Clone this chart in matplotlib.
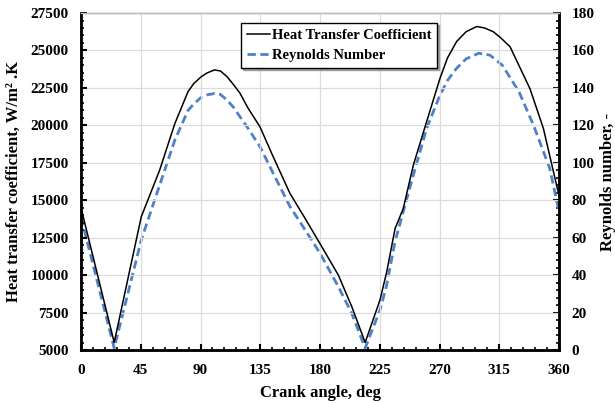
import numpy as np
import matplotlib
matplotlib.use("Agg")
import matplotlib.pyplot as plt
from matplotlib.ticker import MultipleLocator

# -------------------
# Data
# -------------------
htc_deg = [0, 25, 45.4, 59.2, 70.6, 80.6, 85, 90.6, 95, 100.5, 105, 110, 115, 119.7, 125.8, 134.8,
           145, 157.4, 168, 180, 193.8, 203.9, 214, 225.2, 230.2, 236.5, 242.7,
           250.3, 260.3, 270.4, 276, 282.9, 290, 298, 304, 310.5, 316, 323.1, 338.1, 348.2, 360]
htc = [14500, 5500, 13900, 17000, 20100, 22250, 22800, 23250, 23500, 23700, 23630, 23250, 22700, 22150, 21150, 19900,
       17850, 15450, 13900, 12100, 10000, 7900, 5500, 8350, 10200, 13100, 14450,
       17350, 20250, 23150, 24500, 25600, 26250, 26600, 26500, 26250, 25850, 25250, 22450, 19800, 15300]

re_deg = [0, 25, 45.4, 59.2, 70.6, 80.6, 85, 90.6, 95, 100.5, 105, 110, 115, 119.7, 125.8, 134.8,
          145, 157.4, 168, 180, 193.8, 203.9, 214, 225.2, 230.2, 236.5, 242.7,
          250.3, 260.3, 270.4, 276, 282.9, 290, 299.5, 308, 317.2, 329.8, 340.8, 353, 360]
re = [71, 1, 58.8, 88, 112, 128, 131.5, 135, 136.3, 137, 136.5, 133.5, 129.5, 124.6, 118.4, 108.6,
      94, 76.6, 65, 51.7, 33.8, 19.6, 1, 21.4, 34.7, 57.9, 73.9,
      93.5, 118.4, 136.2, 144, 150.5, 155.5, 158.5, 157.5, 152.2, 138, 120, 97, 74]

plt.rcParams['font.family'] = ['Liberation Serif', 'DejaVu Serif']
plt.rcParams['font.weight'] = 'bold'

fig = plt.figure(figsize=(6.15, 4.03), dpi=100)
ax = fig.add_axes([0.1317, 0.1315, 0.909 - 0.1317, 0.9677 - 0.1315])
ax2 = ax.twinx()

l1, = ax.plot(htc_deg, htc, color='black', lw=1.1, label='Heat Transfer Coefficient')
l2, = ax2.plot(re_deg, re, color='#4f81c7', lw=2.0, ls=(0, (3, 1.6)), label='Reynolds Number')

ax.set_xlim(0, 360)
ax.set_ylim(5000, 27500)
ax2.set_ylim(0, 180)

ax.xaxis.set_major_locator(MultipleLocator(45))
ax.xaxis.set_minor_locator(MultipleLocator(9))
ax.yaxis.set_major_locator(MultipleLocator(2500))
ax.yaxis.set_minor_locator(MultipleLocator(500))
ax2.yaxis.set_major_locator(MultipleLocator(20))
ax2.yaxis.set_minor_locator(MultipleLocator(4))

ax.grid(True, which='major', color='#dcdcdc', lw=0.9)
ax.set_axisbelow(True)

for a in (ax, ax2):
    a.tick_params(which='both', direction='in', labelsize=11)
    a.tick_params(which='major', length=4, width=1.5, pad=9)
    a.tick_params(which='minor', length=2.5, width=1.2)
    for s in ('left', 'bottom', 'right'):
        a.spines[s].set_linewidth(1.8)
    a.spines['top'].set_color('#bdbdbd')
    a.spines['top'].set_linewidth(1.0)
ax.tick_params(axis='x', which='major', pad=10)

ax.set_xlabel('Crank angle, deg', fontsize=12, fontweight='bold', labelpad=6)
ax.set_ylabel('Heat transfer coefficient, W/m² .K', fontsize=12, fontweight='bold', labelpad=6)
ax2.set_ylabel('Reynolds number, -', fontsize=12, fontweight='bold', labelpad=4)

leg = ax.legend(handles=[l1, l2], loc='upper left', bbox_to_anchor=(0.32, 0.993),
                frameon=True, fancybox=False,
                shadow={'ox': 1.5, 'oy': -1.5, 'color': '0.55', 'alpha': 0.8},
                handlelength=1.6, handletextpad=0.1, borderpad=0.4, labelspacing=0.5,
                prop={'weight': 'bold', 'size': 10.5})
leg.get_frame().set_edgecolor('black')
leg.get_frame().set_linewidth(1.0)
leg.set_zorder(10)
ax.set_zorder(ax2.get_zorder() + 1)
ax.patch.set_visible(False)

fig.savefig('out.png', dpi=100)
